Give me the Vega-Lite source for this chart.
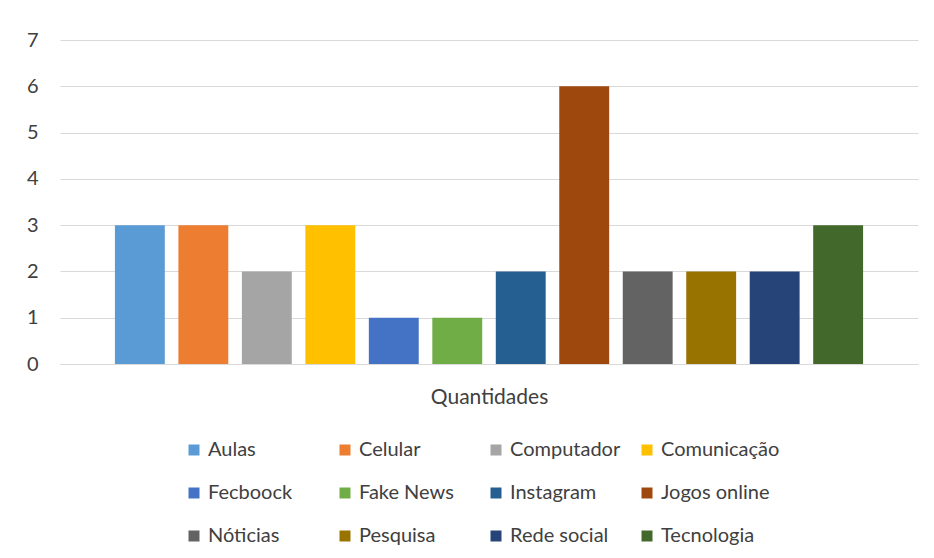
{
  "$schema": "https://vega.github.io/schema/vega-lite/v6.json",
  "autosize": {"type": "none"},
  "width": 858,
  "height": 324,
  "padding": {"left": 60, "top": 40, "right": 16, "bottom": 194},
  "background": "white",
  "config": {
    "view": {"stroke": null},
    "font": "Lato",
    "text": {"color": "#404040"}
  },
  "data": {
    "values": [
      {"Serie": "Aulas", "Categoria": "Quantidades", "Valor": 3},
      {"Serie": "Celular", "Categoria": "Quantidades", "Valor": 3},
      {"Serie": "Computador", "Categoria": "Quantidades", "Valor": 2},
      {"Serie": "Comunicação", "Categoria": "Quantidades", "Valor": 3},
      {"Serie": "Fecboock", "Categoria": "Quantidades", "Valor": 1},
      {"Serie": "Fake News", "Categoria": "Quantidades", "Valor": 1},
      {"Serie": "Instagram", "Categoria": "Quantidades", "Valor": 2},
      {"Serie": "Jogos online", "Categoria": "Quantidades", "Valor": 6},
      {"Serie": "Nóticias", "Categoria": "Quantidades", "Valor": 2},
      {"Serie": "Pesquisa", "Categoria": "Quantidades", "Valor": 2},
      {"Serie": "Rede social", "Categoria": "Quantidades", "Valor": 2},
      {"Serie": "Tecnologia", "Categoria": "Quantidades", "Valor": 3}
    ]
  },
  "mark": {"type": "bar"},
  "encoding": {
    "x": {
      "field": "Serie",
      "type": "nominal",
      "sort": null,
      "scale": {"paddingInner": 0.214, "paddingOuter": 0.865},
      "axis": {
        "title": "Quantidades",
        "labels": false,
        "ticks": false,
        "domain": true,
        "domainColor": "#d9d9d9",
        "domainWidth": 1,
        "titleFont": "Lato",
        "titleFontSize": 21,
        "titleFontWeight": "normal",
        "titleColor": "#404040",
        "titlePadding": 22
      }
    },
    "y": {
      "field": "Valor",
      "type": "quantitative",
      "scale": {"domain": [0, 7], "nice": false},
      "axis": {
        "title": null,
        "values": [0, 1, 2, 3, 4, 5, 6, 7],
        "domain": false,
        "ticks": false,
        "gridColor": "#d9d9d9",
        "gridWidth": 1,
        "labelFont": "Lato",
        "labelFontSize": 20,
        "labelColor": "#404040",
        "labelPadding": 22
      }
    },
    "color": {
      "field": "Serie",
      "type": "nominal",
      "sort": null,
      "scale": {
        "domain": ["Aulas", "Celular", "Computador", "Comunicação", "Fecboock", "Fake News", "Instagram", "Jogos online", "Nóticias", "Pesquisa", "Rede social", "Tecnologia"],
        "range": ["#5B9BD5", "#ED7D31", "#A5A5A5", "#FFC000", "#4472C4", "#70AD47", "#255E91", "#9E480E", "#636363", "#997300", "#264478", "#43682B"]
      },
      "legend": {
        "title": null,
        "orient": "none",
        "legendX": 124,
        "legendY": 400,
        "direction": "horizontal",
        "columns": 4,
        "gridAlign": "all",
        "columnPadding": 8,
        "rowPadding": 23,
        "symbolType": "square",
        "symbolSize": 121,
        "symbolStrokeWidth": 0,
        "symbolOpacity": 1,
        "labelFont": "Lato",
        "labelFontSize": 20,
        "labelColor": "#404040",
        "labelOffset": 4,
        "labelLimit": 200
      }
    }
  }
}
